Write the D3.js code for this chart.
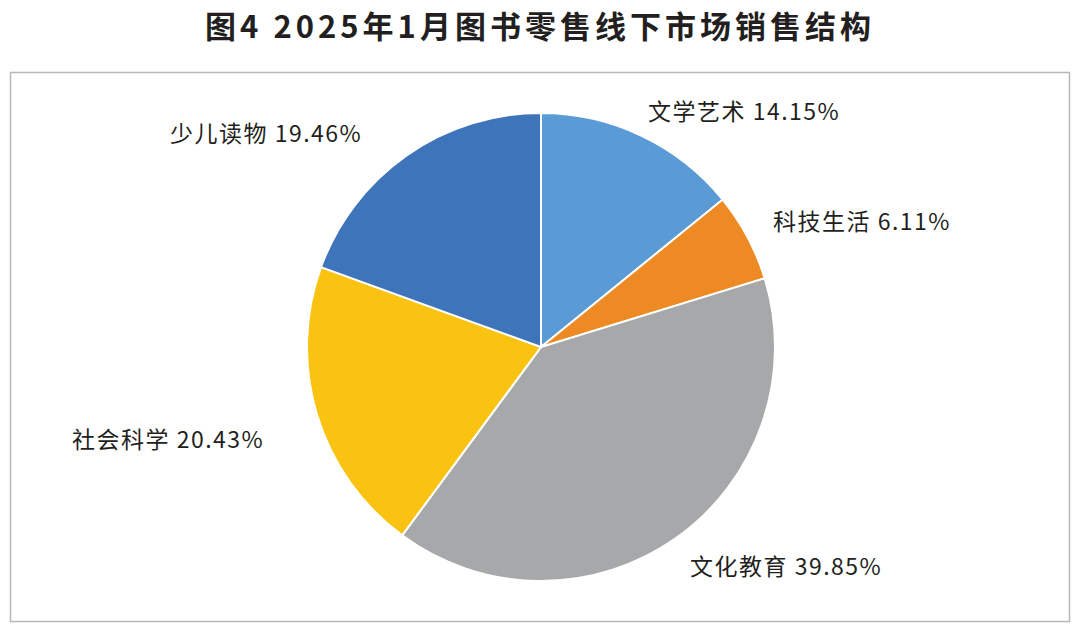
<!DOCTYPE html>
<html><head><meta charset="utf-8">
<script src="https://cdn.jsdelivr.net/npm/d3@7"></script>
<style>body{margin:0;background:#fff}</style>
</head><body>
<script>
// data
var categories = ['文学艺术', '科技生活', '文化教育', '社会科学', '少儿读物'];
var shares = [14.15, 6.11, 39.85, 20.43, 19.46];
var colors = ['#5b9bd5', '#ee8a23', '#a6a8a9', '#fac312', '#3e74b9'];
// label anchor points (start x, baseline y)
var labelPos = [[648, 120], [773, 230], [690, 575], [72, 448], [170, 142]];

var svg = d3.select('body').append('svg').attr('width', 1080).attr('height', 629);

svg.append('text').attr('x', 540).attr('y', 38).attr('text-anchor', 'middle')
    .style('font-family', 'Noto Sans CJK SC').style('font-weight', 'bold')
    .style('font-size', '31px').style('letter-spacing', '4px').attr('fill', '#231f20')
    .text('图4  2025年1月图书零售线下市场销售结构');

svg.append('rect').attr('x', 10.5).attr('y', 72.5).attr('width', 1059).attr('height', 549)
    .attr('fill', 'none').attr('stroke', '#b8b8b8').attr('stroke-width', 1.5);

var pie = d3.pie().sort(null).value(function(d) { return d; });
var arc = d3.arc().innerRadius(0).outerRadius(234);

var g = svg.append('g').attr('transform', 'translate(541,347)');
g.selectAll('path').data(pie(shares)).enter().append('path')
    .attr('d', arc)
    .attr('fill', function(d, i) { return colors[i]; })
    .attr('stroke', '#fff').attr('stroke-width', 2);

svg.selectAll('text.lbl').data(categories).enter().append('text')
    .attr('class', 'lbl')
    .attr('x', function(d, i) { return labelPos[i][0]; })
    .attr('y', function(d, i) { return labelPos[i][1]; })
    .style('font-family', 'Noto Sans CJK SC').style('font-size', '23px')
    .style('letter-spacing', '1.5px')
    .attr('fill', '#231f20')
    .text(function(d, i) { return d + ' ' + shares[i].toFixed(2) + '%'; });
</script>
</body></html>
